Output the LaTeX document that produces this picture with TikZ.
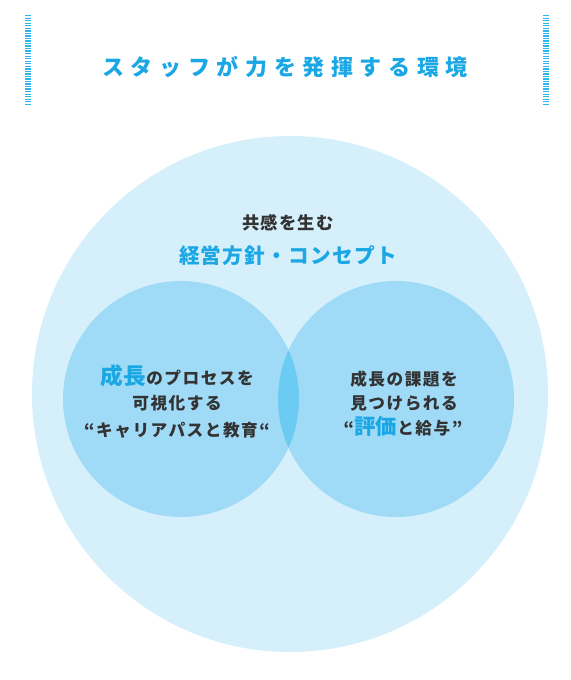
\documentclass[tikz,border=0pt]{standalone}
\usepackage{fontspec}
\usepackage{xcolor}
\usepackage{tikz}
\setmainfont{Noto Sans CJK JP}
\definecolor{outerblue}{RGB}{213,239,251}
\definecolor{innerblue}{RGB}{159,218,247}
\definecolor{lensblue}{RGB}{108,203,243}
\definecolor{textblue}{RGB}{27,167,228}
\definecolor{textgray}{RGB}{51,51,51}
\definecolor{barblue}{RGB}{45,182,236}
\newcommand{\tracked}[1]{\addfontfeature{LetterSpace=#1}}

\begin{document}
\begin{tikzpicture}[x=0.75pt,y=0.75pt,yscale=-1,xscale=1,
  stripebar/.style={color=barblue, line width=4.5pt, dash pattern={on 1pt off 0.9pt}},
  label/.style={anchor=base, inner sep=0.75pt, text=textgray},
  bodyfont/.style={font=\bfseries\fontsize{12.5pt}{15pt}\selectfont\tracked{9}}]
\useasboundingbox (0,0) rectangle (570,680);

%Shape: Side bars
\draw [stripebar] (28,15) -- (28,106) ;
\draw [stripebar] (546,15) -- (546,106) ;

%Shape: Circles
\fill [outerblue] (290,394) circle [radius=258] ;
\fill [innerblue] (181,399) circle [radius=118] ;
\fill [innerblue] (396,399) circle [radius=118] ;
%Shape: Overlap
\begin{scope}
\clip (181,399) circle [radius=118] ;
\fill [lensblue] (396,399) circle [radius=118] ;
\end{scope}

% Text Node
\node (title) [label, text=textblue, font=\bfseries\fontsize{16.5pt}{19pt}\selectfont\tracked{30}] at (285,76) {スタッフが力を発揮する環境};
% Text Node
\node (sub) [label, font=\bfseries\fontsize{13pt}{15pt}\selectfont\tracked{7}] at (288,230) {共感を生む};
% Text Node
\node (concept) [label, text=textblue, font=\bfseries\fontsize{15.5pt}{18pt}\selectfont\tracked{6}] at (288,263.5) {経営方針・コンセプト};

% Text Node
\node (lone) [label, bodyfont] at (177,384.5) {{\color{textblue}\fontsize{17pt}{19pt}\selectfont\tracked{3}成長}のプロセスを};
% Text Node
\node (ltwo) [label, bodyfont] at (177,409.5) {可視化する};
% Text Node
\node (lthree) [label, bodyfont] at (177,436.5) {“キャリアパスと教育“};

% Text Node
\node (rone) [label, bodyfont] at (404,385.5) {成長の課題を};
% Text Node
\node (rtwo) [label, bodyfont] at (404,409.5) {見つけられる};
% Text Node
\node (rthree) [label, bodyfont] at (403,434.5) {“{\color{textblue}\fontsize{16pt}{18pt}\selectfont\tracked{2}評価}と給与”};

\end{tikzpicture}
\end{document}
